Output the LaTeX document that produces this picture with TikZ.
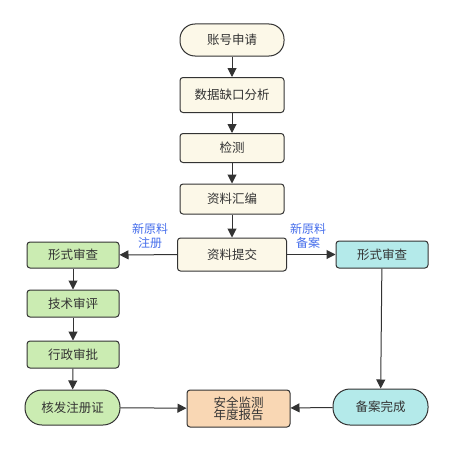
\documentclass[tikz,border=0pt]{standalone}
\usepackage{fontspec}
\setmainfont{Noto Sans CJK SC}
\usetikzlibrary{arrows.meta}
\definecolor{cream}{RGB}{252,248,232}
\definecolor{lgreen}{RGB}{203,236,178}
\definecolor{lcyan}{RGB}{180,234,234}
\definecolor{lorange}{RGB}{249,215,180}
\definecolor{edge}{RGB}{51,51,51}
\definecolor{lblue}{RGB}{70,110,235}
\tikzset{
  box/.style={draw=edge, line width=1pt, rounded corners=3pt, text=edge, font=\fontsize{12.5}{14}\selectfont, inner sep=0pt, align=center},
  stadium/.style={box, rounded corners=15pt},
  arr/.style={draw=edge, line width=1pt, -{Triangle[length=9pt,width=9pt]}},
  lbl/.style={text=lblue, font=\fontsize{12}{13.5}\selectfont, align=center, inner sep=0pt}
}
\begin{document}
\begin{tikzpicture}[x=1pt,y=-1pt]
\useasboundingbox (0,0) rectangle (454,452);
\node[stadium, fill=cream, minimum width=104pt, minimum height=32pt] (a) at (232,40) {账号申请};
\node[box, fill=cream, minimum width=104pt, minimum height=35pt] (b) at (232,95) {数据缺口分析};
\node[box, fill=cream, minimum width=104pt, minimum height=29pt] (c) at (232,148) {检测};
\node[box, fill=cream, minimum width=104pt, minimum height=30pt] (d) at (232,199) {资料汇编};
\node[box, fill=cream, minimum width=109pt, minimum height=33pt] (e) at (232,254.5) {资料提交};
\node[box, fill=lgreen, minimum width=92pt, minimum height=26pt] (f) at (73,255) {形式审查};
\node[box, fill=lgreen, minimum width=92pt, minimum height=27pt] (g) at (73,303.5) {技术审评};
\node[box, fill=lgreen, minimum width=92pt, minimum height=27pt] (h) at (73,354.5) {行政审批};
\node[stadium, fill=lgreen, minimum width=95pt, minimum height=35pt, rounded corners=17pt] (i) at (72.5,407.5) {核发注册证};
\node[box, fill=lorange, minimum width=103pt, minimum height=37pt] (j) at (238.5,408.5) {安全监测\\[-2pt]年度报告};
\node[stadium, fill=lcyan, minimum width=95pt, minimum height=36pt, rounded corners=17pt] (k) at (380.5,407) {备案完成};
\node[box, fill=lcyan, minimum width=92pt, minimum height=27pt] (l) at (382,254.5) {形式审查};
\draw[arr] (a) -- (b);
\draw[arr] (b) -- (c);
\draw[arr] (c) -- (d);
\draw[arr] (d) -- (e);
\draw[arr] (e) -- (f);
\draw[arr] (e) -- (l);
\draw[arr] (f) -- (g);
\draw[arr] (g) -- (h);
\draw[arr] (h) -- (i);
\draw[arr] (i) -- (j);
\draw[arr] (k) -- (j);
\draw[arr] (l) -- (k);
\node[lbl] (m) at (150,236) {新原料\\注册};
\node[lbl] (n) at (308,236) {新原料\\备案};
\end{tikzpicture}
\end{document}
